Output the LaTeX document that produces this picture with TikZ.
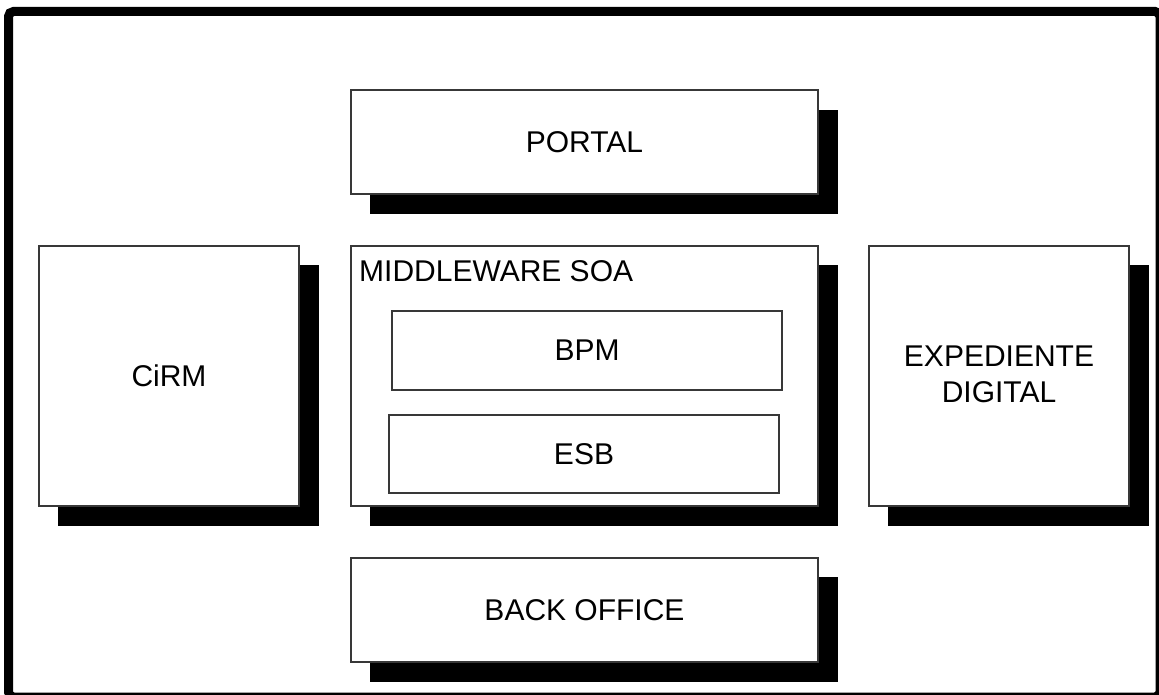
\documentclass[tikz,border=0pt]{standalone}
\usepackage{fontspec}
\setmainfont{Liberation Sans}
\begin{document}
\begin{tikzpicture}[x=1pt,y=-1pt,
  box/.style={draw=black!78,line width=1.3pt,fill=white,inner sep=0pt,
    font=\fontsize{30}{36}\selectfont,align=center},
  shadowbox/.style={fill=black},
  frame/.style={draw=black,line width=9pt,rounded corners=5pt}]
\useasboundingbox (0,0) rectangle (1159,695);
\begin{scope}
\clip (0,0) rectangle (1159,695);
\draw[frame] (8.5,11.5) rectangle (1160,697);
\end{scope}

% drop shadows
\fill[shadowbox] (370,110) rectangle (838,214);
\fill[shadowbox] (58,265) rectangle (319,526);
\fill[shadowbox] (370,265) rectangle (838,526);
\fill[shadowbox] (888,265) rectangle (1149,526);
\fill[shadowbox] (370,577) rectangle (838,682);

% main blocks
\node[box,minimum width=467pt,minimum height=104pt] (portal) at (584.5,142) {PORTAL};
\node[box,minimum width=260pt,minimum height=260pt] (cirm) at (169,376) {CiRM};
\node[box,minimum width=467pt,minimum height=260pt] (mw) at (584.5,376) {};
\node[box,minimum width=260pt,minimum height=260pt] (exp) at (999,376) {};
\node[font=\fontsize{30}{36}\selectfont,align=center,inner sep=0pt] (explabel) at (999,374) {EXPEDIENTE\\DIGITAL};
\node[box,minimum width=467pt,minimum height=104pt] (back) at (584.5,610) {BACK OFFICE};

% inside the middleware block
\node[anchor=base west,inner sep=0pt,font=\fontsize{30}{36}\selectfont] (mwlabel) at (359,281) {MIDDLEWARE SOA};
\node[box,minimum width=390pt,minimum height=79pt] (bpm) at (587,350.5) {BPM};
\node[box,minimum width=390pt,minimum height=78pt] (esb) at (584,454) {ESB};
\end{tikzpicture}
\end{document}
